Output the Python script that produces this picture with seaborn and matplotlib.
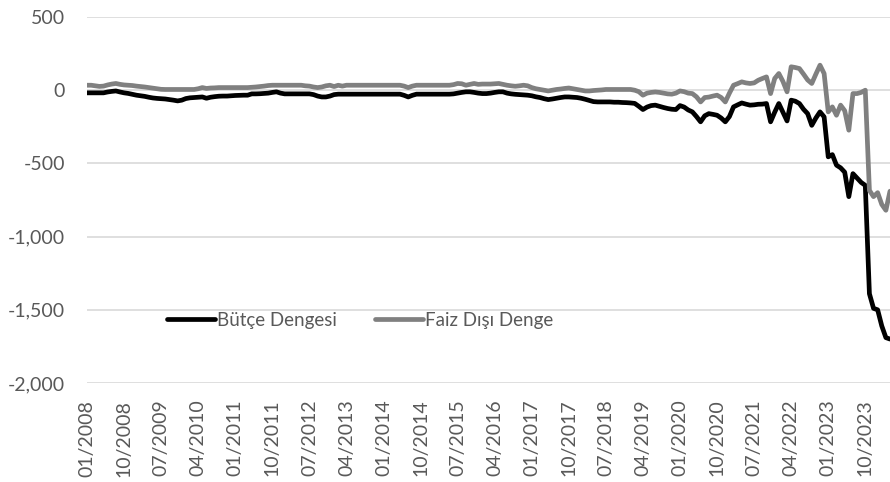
import numpy as np
import pandas as pd
import seaborn as sns
import matplotlib.pyplot as plt
from matplotlib.ticker import FuncFormatter

# monthly values, 01/2008 - 04/2024
butce = (
    [-18, -18, -18, -18, -18, -12, -8, -5, -12, -18, -22, -28]        # 2008
    + [-34, -38, -42, -48, -53, -56, -58, -60, -64, -68, -73, -68]    # 2009
    + [-57, -52, -50, -48, -46, -55, -48, -44, -41, -40, -40, -38]    # 2010
    + [-36, -35, -34, -34, -25, -25, -24, -22, -20, -15, -11, -20]    # 2011
    + [-25, -25, -25, -25, -25, -25, -25, -30, -40, -46, -46, -40]    # 2012
    + [-30, -27, -27, -27, -27, -27, -27, -27, -27, -27, -27, -27]    # 2013
    + [-27, -27, -27, -27, -27, -35, -46, -35, -27, -27, -27, -27]    # 2014
    + [-27, -27, -27, -27, -27, -25, -20, -15, -11, -11, -15, -20]    # 2015
    + [-23, -23, -20, -15, -11, -11, -20, -25, -28, -30, -32, -34]    # 2016
    + [-38, -45, -50, -58, -64, -60, -55, -50, -46, -46, -48, -50]    # 2017
    + [-55, -62, -70, -78, -80, -80, -80, -80, -82, -82, -84, -85]    # 2018
    + [-87, -90, -110, -132, -115, -105, -102, -110, -118, -125, -130, -132]  # 2019
    + [-105, -115, -135, -148, -180, -216, -175, -160, -165, -171, -190, -216]  # 2020
    + [-180, -114, -100, -87, -95, -102, -100, -96, -95, -91, -216, -150]  # 2021
    + [-91, -150, -210, -68, -75, -91, -130, -160, -240, -190, -148, -182]  # 2022
    + [-455, -440, -512, -530, -560, -727, -570, -600, -630, -650, -1390, -1490]  # 2023
    + [-1500, -1610, -1690, -1700]                                    # 2024
)

faiz_disi = (
    [34, 34, 30, 26, 28, 36, 42, 46, 40, 36, 34, 32]                  # 2008
    + [28, 25, 22, 18, 14, 10, 6, 5, 5, 5, 5, 5]                      # 2009
    + [5, 5, 5, 10, 18, 12, 15, 16, 18, 18, 18, 18]                   # 2010
    + [18, 18, 18, 18, 20, 22, 25, 28, 32, 34, 34, 34]                # 2011
    + [34, 34, 34, 34, 34, 30, 28, 22, 18, 22, 30, 34]                # 2012
    + [25, 34, 28, 34, 34, 34, 34, 34, 34, 34, 34, 34]                # 2013
    + [34, 34, 34, 34, 34, 28, 18, 28, 34, 34, 34, 34]                # 2014
    + [34, 34, 34, 34, 34, 38, 46, 44, 34, 40, 46, 40]                # 2015
    + [42, 42, 42, 44, 46, 40, 34, 30, 27, 30, 34, 30]                # 2016
    + [18, 10, 5, 0, -5, 0, 5, 8, 12, 15, 10, 5]                      # 2017
    + [0, -5, -5, -2, 0, 2, 5, 5, 5, 5, 5, 5]                         # 2018
    + [5, 0, -10, -34, -20, -15, -12, -15, -20, -25, -27, -20]        # 2019
    + [-5, -10, -20, -23, -45, -80, -50, -47, -40, -34, -50, -80]     # 2020
    + [-20, 34, 45, 57, 50, 46, 50, 68, 80, 91, -23, 80]              # 2021
    + [114, 60, -11, 160, 155, 148, 110, 70, 46, 110, 171, 114]       # 2022
    + [-148, -114, -171, -102, -140, -273, -23, -23, -15, 0, -684, -727]  # 2023
    + [-700, -780, -820, -690]                                        # 2024
)

months = pd.date_range('2008-01-01', periods=len(butce), freq='MS')
tick_idx = list(range(0, len(months), 9))
tick_labels = [months[i].strftime('%m/%Y') for i in tick_idx]

df = pd.DataFrame({
    't': list(range(len(months))) * 2,
    'value': butce + faiz_disi,
    'seri': ['Bütçe Dengesi'] * len(butce) + ['Faiz Dışı Denge'] * len(faiz_disi),
})

sns.set_style('white')
plt.rcParams['font.family'] = ['Lato', 'DejaVu Sans']

fig = plt.figure(figsize=(8.9, 4.82), dpi=100)
ax = fig.add_axes([0.0978, 0.2054, 0.9022, 0.7593])

sns.lineplot(data=df, x='t', y='value', hue='seri',
             palette={'Bütçe Dengesi': '#000000', 'Faiz Dışı Denge': '#808080'},
             linewidth=3.4, ax=ax)

ax.set_xlim(0, len(months) - 1)
ax.set_ylim(-2000, 500)
ax.set_yticks([500, 0, -500, -1000, -1500, -2000])
ax.yaxis.set_major_formatter(FuncFormatter(lambda v, p: f'{int(v):,}'))
ax.set_xticks(tick_idx)
ax.set_xticklabels(tick_labels, rotation=90)
ax.grid(axis='y', color='#d9d9d9', linewidth=1.2)
ax.set_axisbelow(True)
for s in ax.spines.values():
    s.set_visible(False)
ax.tick_params(axis='y', length=0, pad=16, labelsize=14, labelcolor='#595959')
ax.tick_params(axis='x', length=0, pad=12, labelsize=14, labelcolor='#595959')
ax.set_xlabel('')
ax.set_ylabel('')

leg = ax.legend(loc='center', bbox_to_anchor=(0.34, 0.172), ncol=2, frameon=False,
                handlelength=2.6, handletextpad=0.1, columnspacing=2.0,
                fontsize=13.5)
for t in leg.get_texts():
    t.set_color('#595959')

fig.savefig('out.png', dpi=100)
